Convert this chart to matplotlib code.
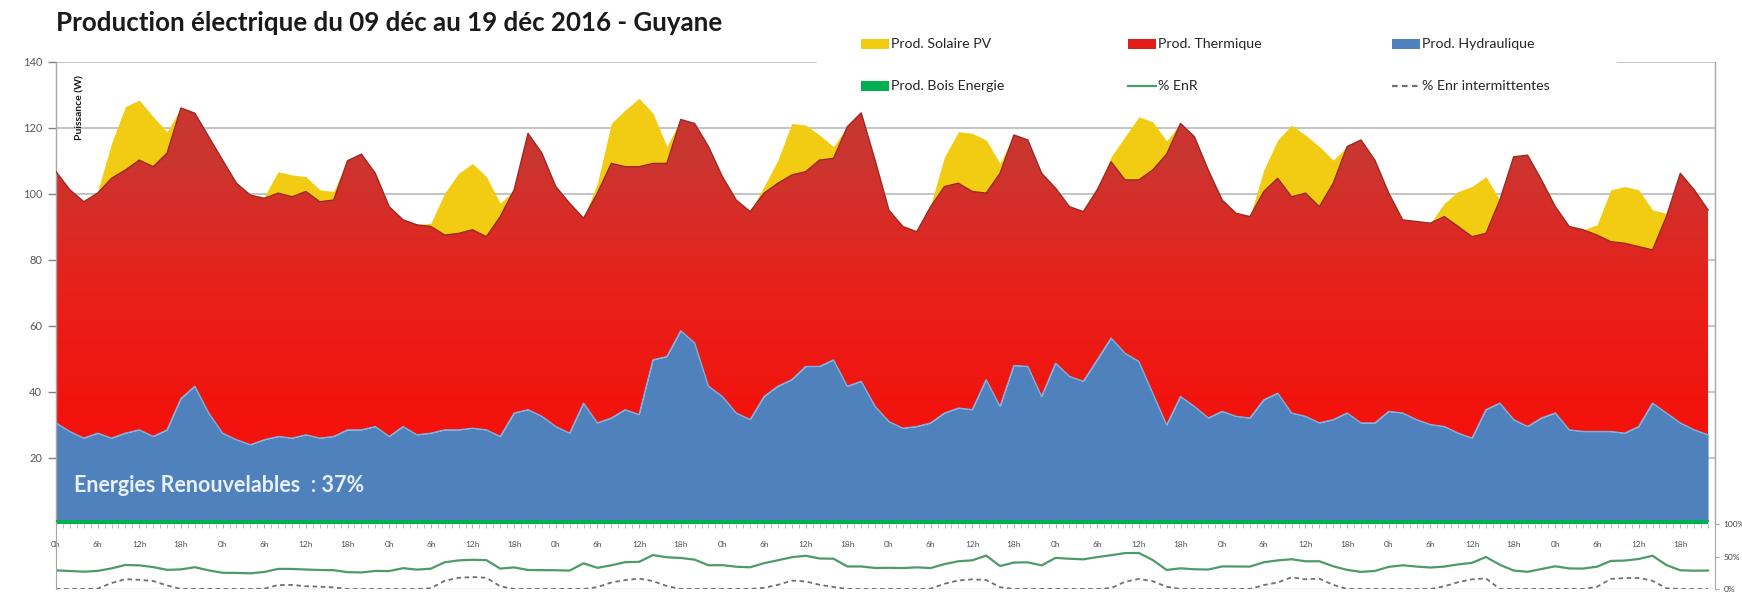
"""Production électrique Guyane, 09-19 déc 2016: stacked areas + % EnR panel."""
import matplotlib
import numpy as np

matplotlib.use('Agg')
import matplotlib.pyplot as plt
from matplotlib.colors import LinearSegmentedColormap
from matplotlib.lines import Line2D
from matplotlib.patches import Rectangle

plt.rcParams['font.family'] = ['Lato', 'DejaVu Sans']

# hours since 09 déc 0h, 2-hour steps
heures = list(range(0, 240, 2))

hydraulique = [
    29.8, 27.2, 25.2, 26.7, 25.2, 26.7, 27.7, 25.7, 27.7, 37.2, 40.9, 32.8,
    26.7, 24.7, 23.2, 24.7, 25.7, 25.2, 26.2, 25.2,
    25.7, 27.7, 27.7, 28.7, 25.7, 28.7, 26.2, 26.7, 27.7, 27.7, 28.2, 27.7,
    25.7, 32.8, 33.8, 31.8, 28.7, 26.7, 35.8, 29.8,
    31.3, 33.8, 32.3, 48.9, 49.9, 57.7, 54.0, 40.9, 37.8, 32.8, 30.8, 37.8,
    40.9, 42.9, 46.9, 46.9, 48.9, 40.9, 42.4, 34.8,
    30.2, 28.2, 28.7, 29.8, 32.8, 34.3, 33.8, 42.9, 34.8, 47.2, 46.9, 37.8,
    47.9, 43.9, 42.4, 48.9, 55.5, 50.9, 48.4, 38.8,
    29.2, 37.8, 34.8, 31.3, 33.3, 31.8, 31.3, 36.8, 38.8, 32.8, 31.8, 29.8,
    30.8, 32.8, 29.8, 29.8, 33.3, 32.8, 30.8, 29.3,
    28.7, 26.7, 25.2, 33.8, 35.8, 30.8, 28.7, 31.3, 32.8, 27.7, 27.2, 27.2,
    27.2, 26.7, 28.7, 35.8, 32.8, 29.8, 27.7, 26.2,
]
thermique = [
    76.1, 73.2, 71.6, 72.7, 78.7, 79.7, 81.7, 81.7, 83.8, 88.0, 82.7, 83.7,
    82.7, 77.7, 75.6, 73.1, 73.7, 73.1, 73.7, 71.6,
    71.6, 81.5, 83.5, 76.7, 69.6, 62.6, 63.6, 62.6, 59.0, 59.5, 60.1, 58.5,
    66.6, 67.6, 83.7, 79.7, 72.7, 69.6, 56.0, 69.6,
    77.1, 73.6, 75.1, 59.5, 58.5, 64.0, 66.5, 72.6, 66.6, 64.5, 63.0, 61.6,
    61.5, 62.0, 59.0, 62.5, 61.0, 78.6, 81.3, 74.6,
    64.0, 61.1, 59.0, 65.5, 68.6, 68.1, 66.1, 56.5, 70.6, 69.8, 68.6, 67.6,
    53.0, 51.4, 51.4, 51.5, 53.4, 52.5, 55.0, 67.6,
    82.0, 82.7, 81.7, 75.1, 64.0, 61.5, 61.0, 63.1, 65.1, 65.5, 67.6, 65.5,
    71.6, 80.7, 85.7, 79.6, 66.1, 58.5, 60.0, 61.0,
    63.6, 62.6, 61.0, 53.4, 61.5, 79.6, 82.2, 72.1, 62.5, 61.6, 61.1, 59.5,
    57.5, 57.5, 54.5, 46.4, 59.5, 75.6, 72.7, 68.1,
]
solaire = [
    0, 0, 0, 0.5, 10.6, 19.2, 18.2, 15.1, 6.5, 0, 0, 0,
    0, 0, 0, 0.5, 6.5, 6.6, 4.5, 3.6,
    2.6, 0, 0, 0, 0, 0, 0, 1.0, 12.7, 18.2, 20.1, 18.2,
    4.0, 0, 0, 0, 0, 0, 0, 3.0,
    12.1, 17.2, 20.7, 15.2, 5.1, 0, 0, 0, 0, 0, 0, 2.0,
    7.0, 15.6, 14.1, 7.6, 3.6, 0, 0, 0,
    0, 0, 0, 0.5, 9.0, 15.6, 17.6, 16.1, 3.0, 0, 0, 0,
    0, 0, 0, 0, 1.5, 13.1, 19.1, 14.6,
    4.0, 0, 0, 0, 0, 0, 0, 6.5, 11.6, 21.7, 17.6, 18.2,
    7.0, 0, 0, 0, 0, 0, 0, 0,
    4.0, 10.6, 15.2, 17.2, 0, 0, 0, 0, 0, 0, 0, 3.1,
    15.7, 17.2, 17.2, 12.1, 1.0, 0, 0, 0,
]
bois = [0.8] * len(heures)

tick_heures = list(range(0, 240, 6))
tick_labels = [f'{h % 24}h' for h in tick_heures]

x = np.array(heures)
h_bois = np.array(bois)
h_hydro = h_bois + np.array(hydraulique)
h_therm = h_hydro + np.array(thermique)
h_total = h_therm + np.array(solaire)
pct_enr = (np.array(hydraulique) + np.array(solaire) + h_bois) / h_total * 100
pct_int = np.array(solaire) / h_total * 100

W, H = 1742, 609
fig = plt.figure(figsize=(W / 100, H / 100), dpi=100)


def fx(px):
    return px / W


def fy(py):
    return 1 - py / H


# ---- main stacked area ----
ax = fig.add_axes([fx(56), fy(524), fx(1715 - 56), (524 - 61.7) / H])

ax.fill_between(x, 0, h_bois, color='#00B050', lw=0, zorder=2)
ax.fill_between(x, h_bois, h_hydro, color='#4F81BD', lw=0, zorder=2)

# thermal area: vertical gradient, darker brick red at the top
therm_poly = ax.fill_between(x, h_hydro, h_therm, color='none', lw=0, zorder=2)
red_cmap = LinearSegmentedColormap.from_list('therm', [
    (0.0, '#F4120C'), (30 / 140, '#F4120C'), (70 / 140, '#E8201A'),
    (110 / 140, '#CC3530'), (1.0, '#C4392F')])
grad = np.linspace(0, 1, 256).reshape(-1, 1)
img = ax.imshow(grad, extent=[0, 239, 0, 140], origin='lower', aspect='auto',
                cmap=red_cmap, zorder=2.1)
img.set_clip_path(therm_poly.get_paths()[0], transform=ax.transData)

ax.fill_between(x, h_therm, h_total, color='#F1CC13', lw=0, zorder=2)
ax.plot(x, h_hydro, color='#7FB0DE', lw=1.0, zorder=3)
ax.plot(x, h_therm, color='#9A2B22', lw=1.0, zorder=3)
ax.plot(x, h_bois, color='#00B050', lw=1.5, zorder=3)

ax.set_xlim(0, 239)
ax.set_ylim(0, 140)
ax.set_yticks(range(20, 141, 20))
ax.yaxis.grid(True, color='#BFBFBF', lw=1.3, zorder=0)
ax.set_axisbelow(True)
ax.tick_params(axis='y', labelsize=8, colors='#808080', labelcolor='#595959',
               length=6, width=1, pad=4)
ax.set_xticks(tick_heures)
ax.set_xticklabels(tick_labels)
ax.set_xticks(range(0, 240), minor=True)
ax.tick_params(axis='x', which='major', labelsize=6, labelcolor='#505050',
               colors='#9AB89A', length=3, pad=9)
ax.tick_params(axis='x', which='minor', colors='#9AB89A', length=3)
for side in ['top', 'bottom']:
    ax.spines[side].set_visible(False)
for side in ['left', 'right']:
    ax.spines[side].set_color('#A6A6A6')
    ax.spines[side].set_linewidth(1.0)

ax.text(0.012, 0.97, 'Puissance (W)', transform=ax.transAxes, rotation=90,
        ha='left', va='top', fontsize=7.5, fontweight='bold', color='#1A1A1A')
ax.text(0.011, 0.084, 'Energies Renouvelables  : 37%', transform=ax.transAxes,
        ha='left', va='center', fontsize=15.5, fontweight='bold', color='#E8F0FA',
        zorder=5)

# ---- % panel ----
ax2 = fig.add_axes([fx(56), fy(589), fx(1715 - 56), (589 - 524) / H])
ax2.patch.set_alpha(0)
ax2.set_xlim(0, 239)
ax2.set_ylim(0, 100)
ax2.plot(x, pct_enr, color='#4E9A68', lw=1.6)
ax2.plot(x, pct_int, color='#707070', lw=1.3, dashes=(2.5, 2))
ax2.axhline(0, color='#BFBFBF', lw=1.0, zorder=0)
ax2.set_xticks([])
ax2.yaxis.tick_right()
ax2.set_yticks([0, 50, 100])
ax2.set_yticklabels(['0%', '50%', '100%'])
ax2.tick_params(axis='y', labelsize=6, colors='#A6A6A6', labelcolor='#404040',
                length=3, pad=3)
for side in ['top', 'bottom']:
    ax2.spines[side].set_visible(False)
for side in ['left', 'right']:
    ax2.spines[side].set_color('#A6A6A6')

# ---- title ----
fig.text(fx(56), fy(23), 'Production électrique du 09 déc au 19 déc 2016 - Guyane',
         ha='left', va='center', fontsize=18.6, fontweight='bold', color='#1A1A1A')

# ---- legend (white box over the top gridline) ----
fig.patches.append(Rectangle((fx(817), fy(102)), fx(1617 - 817), (102 - 22) / H,
                             transform=fig.transFigure, facecolor='white',
                             edgecolor='none', zorder=2))
leg_items = [
    (861, 44, 'patch', '#F1CC13', 'Prod. Solaire PV'),
    (1128, 44, 'patch', '#E02018', 'Prod. Thermique'),
    (1392, 44, 'patch', '#4F81BD', 'Prod. Hydraulique'),
    (861, 86, 'patch', '#00B050', 'Prod. Bois Energie'),
    (1128, 86, 'line', '#4E9A68', '% EnR'),
    (1392, 86, 'dash', '#707070', '% Enr intermittentes'),
]
for lx, ly, kind, col, lab in leg_items:
    if kind == 'patch':
        fig.patches.append(Rectangle((fx(lx), fy(ly + 5)), fx(28), 10 / H,
                                     transform=fig.transFigure, facecolor=col,
                                     edgecolor='none', zorder=3))
    else:
        fig.lines.append(Line2D([fx(lx), fx(lx + 28)], [fy(ly), fy(ly)],
                                transform=fig.transFigure, color=col, lw=1.6,
                                dashes=(2.5, 2) if kind == 'dash' else (None, None),
                                zorder=3))
    fig.text(fx(lx + 30), fy(ly), lab, ha='left', va='center', fontsize=10.2,
             color='#262626', zorder=4)

fig.savefig('out.png', dpi=100)
plt.close(fig)
